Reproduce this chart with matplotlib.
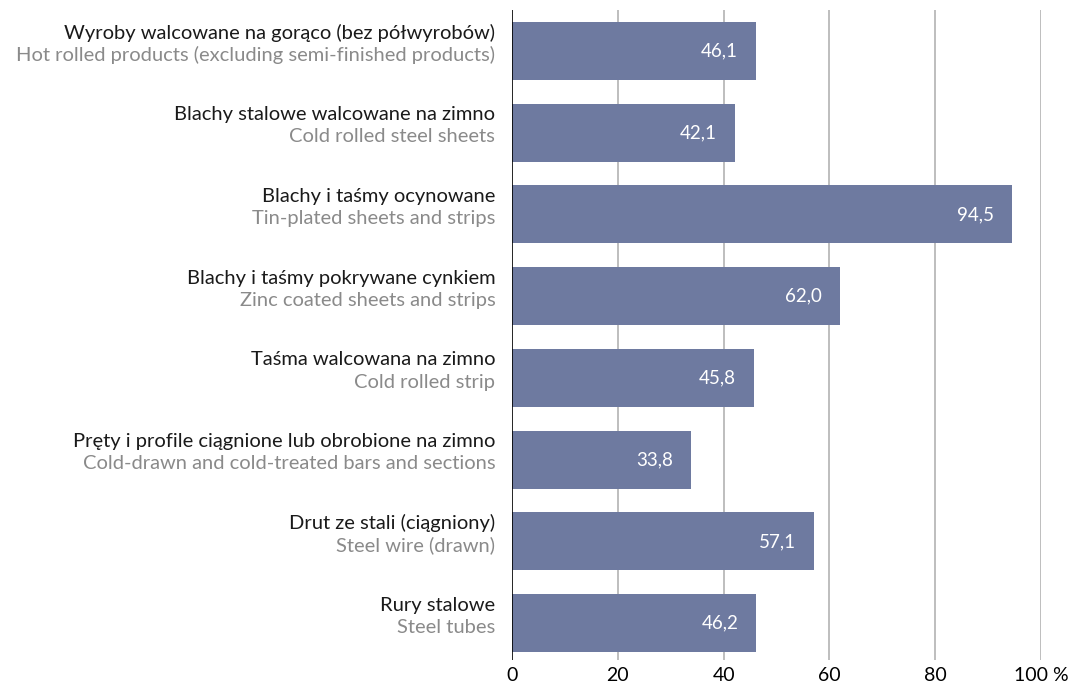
import matplotlib
matplotlib.use("Agg")
import matplotlib.pyplot as plt

plt.rcParams["font.family"] = ["Lato", "DejaVu Sans"]

# ── Data
labels_pl = [
    "Wyroby walcowane na gorąco (bez półwyrobów)",
    "Blachy stalowe walcowane na zimno",
    "Blachy i taśmy ocynowane",
    "Blachy i taśmy pokrywane cynkiem",
    "Taśma walcowana na zimno",
    "Pręty i profile ciągnione lub obrobione na zimno",
    "Drut ze stali (ciągniony)",
    "Rury stalowe",
]
labels_en = [
    "Hot rolled products (excluding semi-finished products)",
    "Cold rolled steel sheets",
    "Tin-plated sheets and strips",
    "Zinc coated sheets and strips",
    "Cold rolled strip",
    "Cold-drawn and cold-treated bars and sections",
    "Steel wire (drawn)",
    "Steel tubes",
]
values = [46.1, 42.1, 94.5, 62.0, 45.8, 33.8, 57.1, 46.2]
xticks = [0, 20, 40, 60, 80, 100]
xtick_labels = ["0", "20", "40", "60", "80", "100 %"]

BAR_COLOR = "#6e7aa0"

fig = plt.figure(figsize=(10.72, 6.89), dpi=100)
ax = fig.add_axes([512 / 1072, 29 / 689, 529 / 1072, 650 / 689])

pos = list(range(len(values)))
ax.barh(pos, values, height=0.71, color=BAR_COLOR, zorder=3)

for p, v in zip(pos, values):
    ax.annotate(f"{v:.1f}".replace(".", ","), xy=(v, p), xytext=(-13, 0),
                textcoords="offset points", ha="right", va="center",
                color="white", fontsize=13.5, zorder=4)

for p, pl, en in zip(pos, labels_pl, labels_en):
    ax.annotate(pl, xy=(0, p), xytext=(-12, 13), textcoords="offset points",
                ha="right", va="center", color="#1a1a1a", fontsize=14.5)
    ax.annotate(en, xy=(0, p), xytext=(-12, -3), textcoords="offset points",
                ha="right", va="center", color="#8a8a8a", fontsize=14.5)

ax.set_xlim(0, 100)
ax.set_ylim(7.45, -0.5)
ax.set_xticks(xticks)
ax.set_xticklabels(xtick_labels, fontsize=14)
ax.set_yticks([])
ax.tick_params(axis="x", length=0, pad=5)

for x in xticks[1:]:
    ax.axvline(x, color="#b3b3b3", lw=1.2, zorder=1)
ax.axvline(0, color="black", lw=1.2, zorder=5)

for s in ax.spines.values():
    s.set_visible(False)

plt.savefig("out.png", dpi=100)
